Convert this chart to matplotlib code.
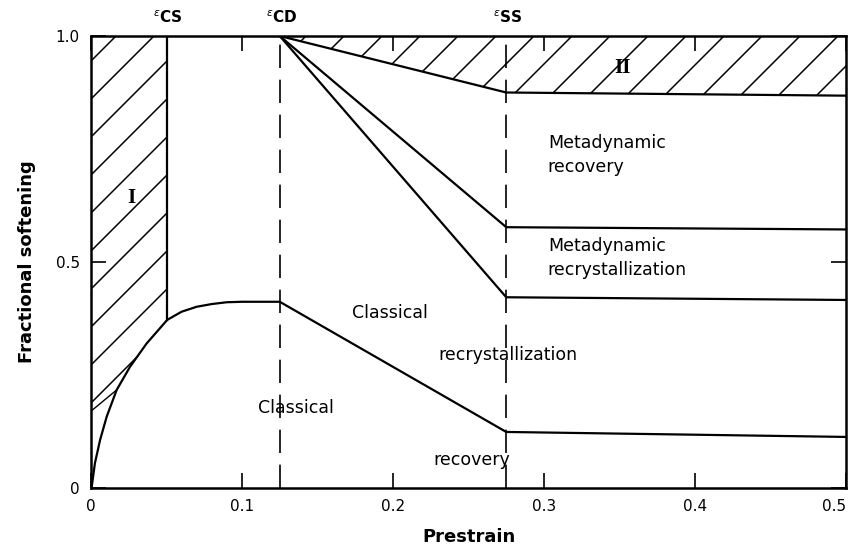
import numpy as np
import matplotlib
matplotlib.use("Agg")
import matplotlib.pyplot as plt
from matplotlib.patches import Polygon

# ---- data ----
eps_cs = 0.05
eps_cd = 0.125
eps_ss = 0.275

# classical recovery curve (prestrain, fractional softening)
rec_x = [0.0, 0.0005, 0.0026, 0.006, 0.0104, 0.017, 0.0258, 0.0369, 0.0505,
         0.060, 0.070, 0.080, 0.090, 0.100, 0.125, 0.275, 0.5]
rec_y = [0.0, 0.003, 0.055, 0.106, 0.158, 0.217, 0.268, 0.320, 0.372,
         0.390, 0.401, 0.407, 0.411, 0.412, 0.412, 0.124, 0.113]

# upper boundaries starting at eps_cd
top_x = [0.125, 0.275, 0.5]
top_y = [1.0, 0.875, 0.868]
mdr_x = [0.125, 0.275, 0.5]          # metadynamic recovery / recrystallization
mdr_y = [1.0, 0.577, 0.572]
mdx_x = [0.125, 0.275, 0.5]          # metadynamic recrystallization / classical
mdx_y = [1.0, 0.422, 0.416]

# small boundary of region I near origin
regI_low_x = [0.0, 0.017]
regI_low_y = [0.17, 0.217]

xticks = [0, 0.1, 0.2, 0.3, 0.4, 0.5]
xtick_labels = ["0", "0.1", "0.2", "0.3", "0.4", "0.5"]
yticks = [0, 0.5, 1.0]
ytick_labels = ["0", "0.5", "1.0"]

W, H, DPI = 850, 555, 100
fig = plt.figure(figsize=(W / DPI, H / DPI), dpi=DPI)
ax = fig.add_axes([91 / W, (H - 488) / H, (846 - 91) / W, (488 - 36) / H])
ax.set_xlim(0, 0.5)
ax.set_ylim(0, 1.0)

lw = 1.6
k = "black"

# main curves
ax.plot(rec_x, rec_y, color=k, lw=lw, solid_capstyle="round")
ax.plot(top_x, top_y, color=k, lw=lw)
ax.plot(mdr_x, mdr_y, color=k, lw=lw)
ax.plot(mdx_x, mdx_y, color=k, lw=lw)
ax.plot(regI_low_x, regI_low_y, color=k, lw=1.0)

# eps_cs solid vertical
i_cs = rec_x.index(0.0505)
ax.plot([eps_cs, eps_cs], [rec_y[i_cs], 1.0], color=k, lw=lw)

# dashed verticals
for xv in (eps_cd, eps_ss):
    ax.plot([xv, xv], [0, 1.0], color=k, lw=1.2, dashes=(14, 7))


def hatch_region(xs, ys, spacing_px=38, lwh=1.1):
    poly = Polygon(np.column_stack([xs, ys]), closed=True, fill=False,
                   edgecolor="none", transform=ax.transData)
    ax.add_patch(poly)
    fig.canvas.draw()
    bb = ax.get_window_extent()
    inv = ax.transData.inverted()
    c = -bb.width - bb.height
    while c < bb.width + bb.height:
        pts = np.array([[bb.x0 - 10, bb.y0 - 10 + c],
                        [bb.x1 + 10, bb.y0 + bb.width + 10 + c]])
        d = inv.transform(pts)
        ln, = ax.plot(d[:, 0], d[:, 1], color=k, lw=lwh)
        ln.set_clip_path(poly)
        c += spacing_px


# region I
mask = [i for i, x in enumerate(rec_x) if regI_low_x[1] <= x <= 0.0505]
regI_x = [0.0, 0.0, eps_cs, eps_cs] + [rec_x[i] for i in reversed(mask)] + [regI_low_x[0]]
regI_y = [regI_low_y[0], 1.0, 1.0, rec_y[i_cs]] + [rec_y[i] for i in reversed(mask)] + [regI_low_y[0]]
hatch_region(regI_x, regI_y)

# region II
regII_x = [top_x[0], top_x[1], top_x[2], 0.5]
regII_y = [top_y[0], top_y[1], top_y[2], 1.0]
hatch_region(regII_x, regII_y)

# axes styling
for s in ax.spines.values():
    s.set_linewidth(1.8)
ax.set_xticks(xticks)
ax.set_xticklabels(xtick_labels)
ax.set_yticks(yticks)
ax.set_yticklabels(ytick_labels)
ax.tick_params(direction="in", length=11, width=1.2, top=True, right=True,
               labelsize=11, pad=8)
xl = ax.get_xticklabels()
xl[-1].set_horizontalalignment("right")
ax.set_xlabel("Prestrain", fontsize=13, fontweight="bold", labelpad=10)
ax.set_ylabel("Fractional softening", fontsize=13, fontweight="bold", labelpad=14)

# top epsilon labels
for xv, lab in ((eps_cs, "CS"), (eps_cd, "CD"), (eps_ss, "SS")):
    ax.text(xv + 0.001, 1.022, r"$^{\epsilon}$" + lab, ha="center", va="bottom",
            fontsize=11, fontweight="bold")

# region labels
ax.text(0.027, 0.642, "I", fontsize=15, fontweight="bold",
        family="Liberation Serif", ha="center", va="center")
ax.text(0.352, 0.93, "II", fontsize=15, fontweight="bold",
        family="Liberation Serif", ha="center", va="center")

fs = 12.5
ax.text(0.3025, 0.737, "Metadynamic\nrecovery", fontsize=fs, ha="left",
        va="center", linespacing=1.45)
ax.text(0.3025, 0.509, "Metadynamic\nrecrystallization", fontsize=fs,
        ha="left", va="center", linespacing=1.45)
ax.text(0.173, 0.387, "Classical", fontsize=fs, ha="left", va="center")
ax.text(0.2298, 0.294, "recrystallization", fontsize=fs, ha="left", va="center")
ax.text(0.1106, 0.177, "Classical", fontsize=fs, ha="left", va="center")
ax.text(0.2265, 0.062, "recovery", fontsize=fs, ha="left", va="center")

fig.savefig("out.png", dpi=DPI)
